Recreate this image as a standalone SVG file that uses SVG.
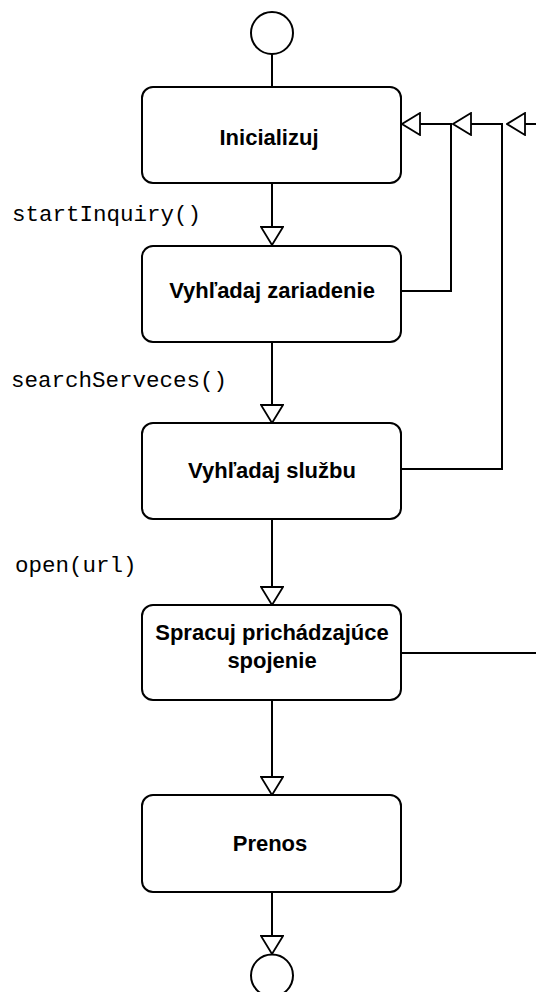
<svg xmlns="http://www.w3.org/2000/svg" width="536" height="992" viewBox="0 0 536 992">
  <style>
    .box { fill: #fff; stroke: #000; stroke-width: 2; }
    .term { fill: #fff; stroke: #000; stroke-width: 2; }
    .edge { fill: none; stroke: #000; stroke-width: 2; }
    .title { font-family: "Liberation Sans", Arial, sans-serif; font-size: 22px; font-weight: bold; fill: #000; text-anchor: middle; }
    .call { font-family: "Liberation Mono", "Courier New", monospace; font-size: 22.5px; fill: #000; }
  </style>
  <defs>
    <marker id="tri" viewBox="0 0 20 24" refX="19" refY="12" markerWidth="20" markerHeight="24" markerUnits="userSpaceOnUse" orient="auto">
      <path d="M1,1 L19,12 L1,23 Z" fill="#fff" stroke="#000" stroke-width="1.8"/>
    </marker>
  </defs>
  <rect width="536" height="992" fill="#fff"/>

  <!-- connectors -->
  <g id="connectors">
    <path class="edge" d="M272,54 V87"/>
    <path class="edge" d="M272,183 V245" marker-end="url(#tri)"/>
    <path class="edge" d="M272,342 V423" marker-end="url(#tri)"/>
    <path class="edge" d="M272,519 V605" marker-end="url(#tri)"/>
    <path class="edge" d="M272,700 V795" marker-end="url(#tri)"/>
    <path class="edge" d="M272,892 V954" marker-end="url(#tri)"/>
    <!-- return paths back to Inicializuj -->
    <path class="edge" d="M536,124 H507" marker-end="url(#tri)"/>
    <path class="edge" d="M401,469 H502 V124 H453" marker-end="url(#tri)"/>
    <path class="edge" d="M401,291 H451 V124 H402" marker-end="url(#tri)"/>
    <path class="edge" d="M401,653 H536"/>
  </g>

  <!-- edge labels -->
  <g id="labels">
    <text class="call" x="12" y="221">startInquiry()</text>
    <text class="call" x="11" y="387">searchServeces()</text>
    <text class="call" x="15" y="572">open(url)</text>
  </g>

  <g id="start">
    <circle class="term" cx="272" cy="33" r="21"/>
  </g>

  <g id="inicializuj">
    <rect class="box" x="142" y="87" width="259" height="96" rx="11"/>
    <text class="title" x="269" y="145">Inicializuj</text>
  </g>

  <g id="vyhladaj-zariadenie">
    <rect class="box" x="142" y="246" width="259" height="96" rx="11"/>
    <text class="title" x="272" y="298">Vyhľadaj zariadenie</text>
  </g>

  <g id="vyhladaj-sluzbu">
    <rect class="box" x="142" y="423" width="259" height="96" rx="11"/>
    <text class="title" x="272" y="478">Vyhľadaj službu</text>
  </g>

  <g id="spracuj-spojenie">
    <rect class="box" x="142" y="605" width="259" height="95" rx="11"/>
    <text class="title" x="272" y="640">Spracuj prichádzajúce</text>
    <text class="title" x="272" y="668">spojenie</text>
  </g>

  <g id="prenos">
    <rect class="box" x="142" y="795" width="259" height="97" rx="11"/>
    <text class="title" x="270" y="851">Prenos</text>
  </g>

  <g id="end">
    <circle class="term" cx="272" cy="975.5" r="21"/>
  </g>
</svg>
